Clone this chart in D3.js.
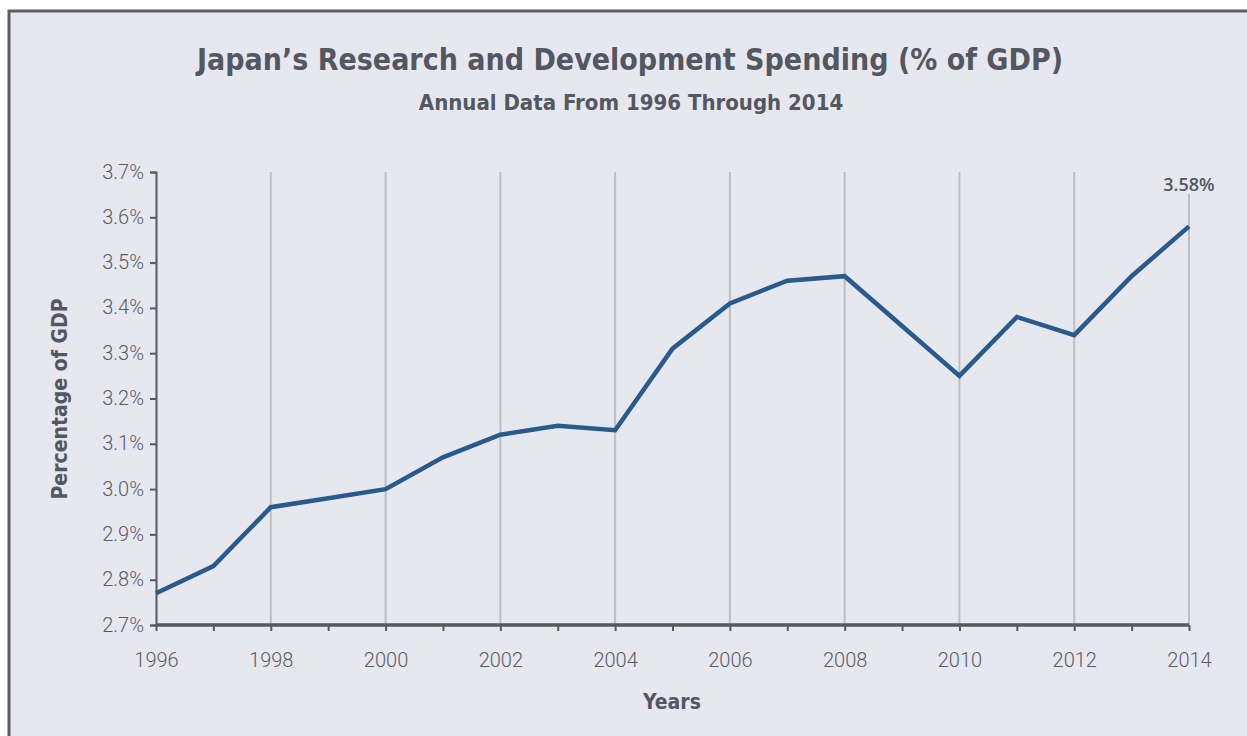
<!DOCTYPE html>
<html>
<head>
<meta charset="utf-8">
<script src="https://cdn.jsdelivr.net/npm/d3@7"></script>
<style>
	html,body{margin:0;padding:0;background:#fff;}
	svg{display:block;}
	.tick-label{font-family:Roboto,Lato,sans-serif;font-weight:300;fill:#595c64;}
	.cond{font-family:"Liberation Sans Narrow","DejaVu Sans Condensed","Roboto",sans-serif;font-weight:bold;fill:#53575f;}
</style>
</head>
<body>
<div id="chart"></div>
<script>
const years = [1996,1997,1998,1999,2000,2001,2002,2003,2004,2005,2006,2007,2008,2009,2010,2011,2012,2013,2014];
const rdSpending = [2.77,2.83,2.96,2.98,3.00,3.07,3.12,3.14,3.13,3.31,3.41,3.46,3.47,3.36,3.25,3.38,3.34,3.47,3.58];
const yTicks = [2.7,2.8,2.9,3.0,3.1,3.2,3.3,3.4,3.5,3.6,3.7];
const xLabelYears = [1996,1998,2000,2002,2004,2006,2008,2010,2012,2014];
const gridYears = [1998,2000,2002,2004,2006,2008,2010,2012,2014];

const W = 1247, H = 736;
const _m = {t:172, r:58, l:156, b:111};
const _w = W - _m.l - _m.r, _h = H - _m.t - _m.b;

const _svg = d3.select('#chart').append('svg').attr('width',W).attr('height',H);

// frame
_svg.append('rect')
	.attr('x',9).attr('y',11).attr('width',W).attr('height',H)
	.style('fill','#e7e7f0').style('stroke','#5b5e66').style('stroke-width',3);

_svg.append('text').attr('class','cond')
	.attr('x',630).attr('y',70).attr('text-anchor','middle')
	.style('font-size','30px')
	.text('Japan\u2019s Research and Development Spending (% of GDP)');
_svg.append('text').attr('class','cond')
	.attr('x',631).attr('y',110).attr('text-anchor','middle')
	.style('font-size','22px')
	.text('Annual Data From 1996 Through 2014');

const _graphic = _svg.append('g').attr('transform',`translate(${_m.l},${_m.t})`);

const _scaleX = d3.scaleLinear().domain([1996,2014]).range([0,_w]),
	_scaleY = d3.scaleLinear().domain([2.7,3.7]).range([_h,0]);

const last = rdSpending[rdSpending.length-1];

// gridlines
_graphic.selectAll('.grid')
	.data(gridYears)
	.enter()
	.append('line').attr('class','grid')
	.attr('x1',d=>_scaleX(d)).attr('x2',d=>_scaleX(d))
	.attr('y1',d=>d===2014?_scaleY(3.7)+22:0)
	.attr('y2',_h)
	.style('stroke','#bdbdc2')
	.style('stroke-width','2px');

// y axis
const yAxis = _graphic.append('g')
	.call(d3.axisLeft(_scaleY).tickValues(yTicks).tickSize(6).tickPadding(6).tickFormat(d=>d3.format('.1f')(d)+'%'));
yAxis.select('.domain').style('stroke','#55585f').style('stroke-width','2px');
yAxis.selectAll('.tick line').style('stroke','#55585f').style('stroke-width','2px');
yAxis.selectAll('.tick text').attr('class','tick-label').style('font-size','20px').attr('dy','0.3em');

// x axis
const xAxis = _graphic.append('g').attr('transform',`translate(0,${_h})`)
	.call(d3.axisBottom(_scaleX).tickValues(years).tickSize(6).tickPadding(22).tickFormat(d=>xLabelYears.includes(d)?String(d):''));
xAxis.select('.domain').attr('d',`M0,0H${_w}`).style('stroke','#55585f').style('stroke-width','3.5px');
xAxis.selectAll('.tick line').style('stroke','#55585f').style('stroke-width','2px');
xAxis.selectAll('.tick text').attr('class','tick-label').style('font-size','20px');

// line
const line = d3.line().x((d,i)=>_scaleX(years[i])).y(d=>_scaleY(d));
_graphic.append('path')
	.datum(rdSpending)
	.attr('d',line)
	.style('fill','none')
	.style('stroke','#285a8b')
	.style('stroke-width','4.5px')
	.style('stroke-linejoin','miter');

// last value label
_graphic.append('text')
	.attr('x',_scaleX(2014)).attr('y',_scaleY(3.7)+19)
	.attr('text-anchor','middle')
	.style('font-family','"Open Sans",sans-serif').style('font-weight','600')
	.style('font-size','18px').style('fill','#53575f')
	.text(d3.format('.2f')(last)+'%');

// axis titles
_svg.append('text').attr('class','cond')
	.attr('transform','translate(67,399) rotate(-90)')
	.attr('text-anchor','middle')
	.style('font-size','21px')
	.text('Percentage of GDP');
_svg.append('text').attr('class','cond')
	.attr('x',672).attr('y',709).attr('text-anchor','middle')
	.style('font-size','21px')
	.text('Years');
</script>
</body>
</html>
